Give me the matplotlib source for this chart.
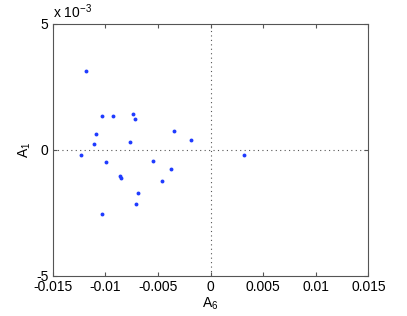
import numpy as np
import matplotlib.pyplot as plt

plt.rcParams["font.family"] = ["Liberation Sans", "DejaVu Sans"]
plt.rcParams["axes.unicode_minus"] = False
plt.rcParams["mathtext.fontset"] = "custom"
plt.rcParams["mathtext.rm"] = "Liberation Sans"
plt.rcParams["mathtext.it"] = "Liberation Sans:italic"
plt.rcParams["mathtext.default"] = "rm"

# scatter values
a6 = [-0.01188, -0.01030, -0.00928, -0.00738, -0.00722, -0.01087, -0.01106,
      -0.00767, -0.00348, -0.00190, -0.01232, -0.00998, -0.00551, -0.00371,
      -0.00459, -0.00865, -0.00849, -0.00691, -0.00713, -0.01036, 0.00317]
a1 = [3.12, 1.34, 1.34, 1.42, 1.24, 0.63, 0.25,
      0.32, 0.74, 0.38, -0.20, -0.46, -0.45, -0.74,
      -1.24, -1.04, -1.10, -1.71, -2.13, -2.53, -0.19]  # x 1e-3

x_ticks = [-0.015, -0.01, -0.005, 0, 0.005, 0.01, 0.015]
x_labels = ["-0.015", "-0.01", "-0.005", "0", "0.005", "0.01", "0.015"]
y_ticks = [-5, 0, 5]

fig = plt.figure(figsize=(4.07, 3.16), dpi=100)
ax = fig.add_axes([0.1295, 0.1266, 0.7755, 0.7975])

ax.axhline(0, color="#555555", linestyle=(0, (1, 3)), linewidth=0.8, zorder=1)
ax.axvline(0, color="#555555", linestyle=(0, (1, 3)), linewidth=0.8, zorder=1)
ax.plot(a6, np.array(a1), "o", color="#1f3bff", markersize=2.8,
        markeredgewidth=0, zorder=3)

ax.set_xlim(-0.015, 0.015)
ax.set_ylim(-5, 5)
ax.set_xticks(x_ticks)
ax.set_xticklabels(x_labels)
ax.set_yticks(y_ticks)
ax.tick_params(direction="in", top=True, right=True, labelsize=10,
               length=3, color="#555555", pad=3)
for s in ax.spines.values():
    s.set_color("#555555")
    s.set_linewidth(0.8)

ax.set_xlabel("A$_6$", fontsize=10, labelpad=1)
ax.set_ylabel("A$_1$", fontsize=10, labelpad=2)
fig.text(0.131, 0.935, "x 10$^{-3}$", fontsize=10, ha="left", va="bottom")

fig.savefig("out.png", dpi=100)
